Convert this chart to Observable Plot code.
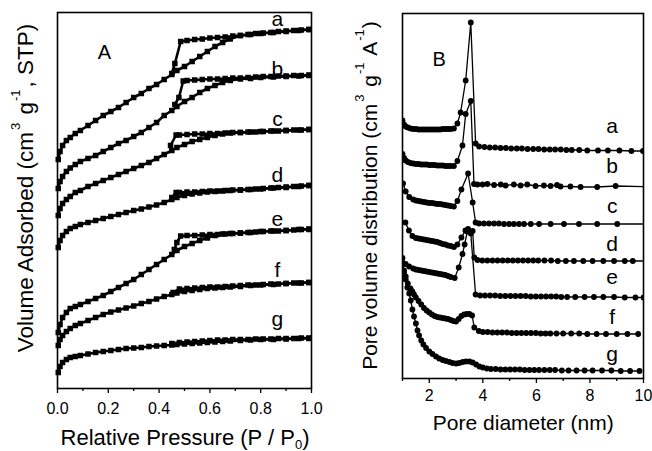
<!DOCTYPE html>
<html><head><meta charset="utf-8">
<script src="https://cdn.jsdelivr.net/npm/d3@7"></script>
<script src="https://cdn.jsdelivr.net/npm/@observablehq/plot@0.6"></script>
<style>
html,body{margin:0;padding:0;background:#fff;}
#wrap{position:relative;width:652px;height:451px;overflow:hidden;background:#fff;}
#wrap svg{position:absolute;top:0;}
</style></head><body><div id="wrap"></div>
<script>
// ---------- Panel A: N2 isotherms (arbitrary offset units) ----------
const sampleNames = ["a","b","c","d","e","f","g"];
const pAds = [0.003,0.01,0.02,0.035,0.05,0.07,0.09,0.12,0.15,0.18,0.21,0.24,0.27,0.30,0.33,0.36,0.39,0.42,0.45,0.47,0.50,0.53,0.56,0.59,0.62,0.65,0.68,0.72,0.76,0.80,0.85,0.90,0.95,0.99];
const adsA = [229,237,243,248,251,255,258,263,268,273,277,281,286,291,295,300,304,309,314,318,322,327,332,337,342,346,349.5,353,354,355,356,357,358,359];
const adsB = [200,207,212,217,220.5,224,227,230,233,237,241,245,248,252,256,261,266,273,278,282,287,291,296,300,303,306,308,309.5,310,311,311.5,312,312.5,313];
const adsC = [173,180,185,189,192,196,198,202,205,208,211,214,217,220,223,226,230,234,238,241,244,247,249,251,253,254.5,255.5,256,256.5,257,257.5,258,258.5,259];
const adsD = [141,148,153,157,160,162,164,166,168,170,172,174,176,178,179.5,181.5,183.5,186,189,191,193,194.5,195.5,196.5,197,197.5,198,198.5,199,199.5,200.5,201,202,203];
const adsE = [56,64,71,76,80,82,84,87,90,93,97,101,105,109,114,119,124,129,134,138,142,145,148,150.5,153,154.5,155,155.5,156,157,157.5,158,159,159.5];
const adsF = [43,49,53,57,60,63,65,68,71,74,76.5,78.5,80.5,82.5,85,87,89.5,92,94,95.5,97,98,99,100,100.5,101,101.5,102,103,103.5,104,105,105.5,106];
const adsG = [16,22,26,29,31,32,33,34.5,36,37,38,39,40,40.5,41,42,42.5,43,43.5,44,44.5,45,45.5,46,46.5,47,47.5,48,48.5,49,49,49.5,50,50];

const desA = [[0.99,359],[0.96,358.5],[0.93,358],[0.90,357.5],[0.87,357],[0.84,356],[0.81,355.5],[0.78,355],[0.75,354],[0.72,353],[0.69,352.5],[0.66,351.5],[0.63,351],[0.60,350.5],[0.57,349.5],[0.54,349],[0.51,348],[0.485,347],[0.462,325],[0.45,315]];
const desB = [[0.99,313.5],[0.96,313],[0.93,313],[0.90,312.5],[0.87,312.5],[0.84,312],[0.81,312],[0.78,311.5],[0.75,311],[0.72,310.5],[0.69,310.5],[0.66,310],[0.63,309.5],[0.60,309.5],[0.57,309],[0.54,308.5],[0.51,308],[0.495,307.5],[0.478,291],[0.462,284]];
const desC = [[0.99,259],[0.96,258.5],[0.93,258.5],[0.90,258],[0.87,257.5],[0.84,257.5],[0.81,257],[0.78,256.5],[0.75,256.5],[0.72,256],[0.69,256],[0.66,255.5],[0.63,255],[0.60,255],[0.57,254.5],[0.54,254.5],[0.51,254],[0.48,253.5],[0.467,253.5],[0.445,243]];
const desD = [[0.99,203],[0.96,202.5],[0.93,202],[0.90,201.5],[0.87,201],[0.84,200.5],[0.81,200],[0.78,199.5],[0.75,199],[0.72,198.5],[0.69,198.5],[0.66,198],[0.63,197.5],[0.60,197.5],[0.57,197],[0.54,196.5],[0.51,196.5],[0.48,196],[0.467,196],[0.45,191]];
const desE = [[0.99,159],[0.96,159],[0.93,158.5],[0.90,158],[0.87,157.5],[0.84,157.5],[0.81,157],[0.78,156.5],[0.75,156],[0.72,155.5],[0.69,155],[0.66,154.5],[0.63,154],[0.60,154],[0.57,153.5],[0.54,153],[0.51,153],[0.485,152.5],[0.47,146],[0.46,139]];
const desF = [[0.99,106],[0.96,105.5],[0.93,105.5],[0.90,105],[0.87,104.5],[0.84,104.5],[0.81,104],[0.78,103.5],[0.75,103.5],[0.72,103],[0.69,102.5],[0.66,102],[0.63,101.5],[0.60,101.5],[0.57,101],[0.54,100.5],[0.51,100],[0.48,99.5],[0.455,96]];
const desG = [[0.99,50.5],[0.96,50.5],[0.93,50],[0.90,50],[0.87,50],[0.84,49.5],[0.81,49.5],[0.78,49.5],[0.75,49],[0.72,49],[0.69,49],[0.66,48.5],[0.63,48.5],[0.60,48],[0.57,47.5],[0.54,47],[0.51,46.5],[0.48,46],[0.45,45]];

const ticksMajorA = [0, 0.2, 0.4, 0.6, 0.8, 1.0];
const ticksMinorA = [0.1, 0.3, 0.5, 0.7, 0.9];
const labelXA = 0.866;
const labelYA = [369.7, 319.7, 269.7, 213, 169.7, 118, 69.7];

// ---------- Panel B: pore size distributions (arbitrary offset units) ----------
const pvdA = [[1.00,258],[1.06,254],[1.12,252],[1.2,251],[1.3,250],[1.4,249.5],[1.5,249.5],[1.6,249],[1.7,249],[1.8,249],[1.9,249],[2.0,249],[2.1,249],[2.2,249],[2.3,249],[2.4,249],[2.5,249.5],[2.6,249.5],[2.7,249.5],[2.8,249.5],[2.92,250],[3.05,255],[3.17,266],[3.36,298],[3.55,356],[3.73,235],[3.86,232],[4.06,231.5],[4.26,231],[4.46,231],[4.66,230.5],[4.86,230.5],[5.06,230],[5.27,230],[5.46,230],[5.67,229.5],[5.88,229.5],[6.08,229.5],[6.29,229],[6.5,229],[6.7,229],[6.91,229],[7.12,228.5],[7.32,228.5],[7.6,228.5],[7.9,228],[8.3,228],[8.67,228],[9.1,228],[9.55,227.5],[9.98,227.5]];
const pvdB = [[1.00,224.5],[1.06,220.5],[1.12,218],[1.2,216.5],[1.3,215.5],[1.4,215],[1.5,214.5],[1.6,214.5],[1.7,214],[1.8,214],[1.9,214],[2.0,213.5],[2.1,213.5],[2.2,213.5],[2.3,213],[2.4,213],[2.5,213],[2.6,212.5],[2.7,212.5],[2.8,212.5],[2.92,212.5],[3.05,217.5],[3.24,233],[3.36,264.5],[3.55,277.5],[3.67,194.5],[3.8,194],[3.99,194],[4.17,194.5],[4.42,193.5],[4.67,194],[4.85,193],[5.16,194],[5.41,193],[5.66,194],[5.97,192.5],[6.28,193],[6.53,192.5],[6.77,193.5],[6.9,192],[7.27,192],[7.65,191.5],[8.27,191.5],[8.96,192.5],[10.4,191.5]];
const pvdC = [[1.02,195],[1.12,187],[1.25,181.5],[1.4,179],[1.5,178],[1.6,177.5],[1.7,177],[1.8,176.5],[1.9,176],[2.0,175.5],[2.1,175.5],[2.2,175],[2.3,174.5],[2.4,174.5],[2.5,174],[2.6,173.5],[2.7,173],[2.8,172.5],[2.92,172],[3.05,177.5],[3.2,189],[3.45,205],[3.62,176],[3.73,156],[3.86,155],[4.04,155],[4.23,155],[4.42,155],[4.6,155],[4.79,154.5],[4.98,154.5],[5.16,154.5],[5.35,154.5],[5.54,154.5],[5.79,154.5],[6.1,154.5],[6.53,154.5],[7.03,154.5],[7.59,154.5],[8.27,154.5],[9.02,154.5],[10.4,154.5]];
const pvdD = [[1.11,156],[1.24,148],[1.37,142.5],[1.5,140.5],[1.6,140],[1.7,139.5],[1.8,139],[1.9,138.5],[2.0,138],[2.1,137.5],[2.2,137],[2.3,136.5],[2.4,135.5],[2.5,134.5],[2.6,134],[2.7,133],[2.8,132.5],[2.92,131.5],[3.05,134],[3.2,141],[3.35,148],[3.45,149.5],[3.62,147.5],[3.68,121],[3.8,118.5],[3.98,118],[4.17,118],[4.36,118],[4.55,118],[4.74,118],[4.93,118],[5.12,118],[5.31,118],[5.5,118],[5.69,118],[5.88,118],[6.07,118],[6.3,118],[6.55,118],[6.8,117.5],[7.1,117.5],[7.4,117.5],[7.75,117.5],[8.1,117.5],[8.5,117.5],[8.9,117.5],[9.3,117.5],[9.6,117.5],[10.4,117.5]];
const pvdE = [[1.0,120.5],[1.12,114.5],[1.25,112],[1.4,110],[1.5,109],[1.6,108.5],[1.7,108],[1.8,107.5],[1.9,107],[2.0,106.5],[2.1,106],[2.2,105.5],[2.3,105],[2.4,104.5],[2.5,104],[2.6,103.5],[2.7,102.5],[2.8,101.5],[2.95,100.5],[3.1,111],[3.24,124.5],[3.32,134],[3.42,147],[3.55,145],[3.73,84],[3.9,83],[4.08,83],[4.27,83],[4.46,83],[4.65,82.5],[4.84,82.5],[5.03,82.5],[5.22,82.5],[5.41,82.5],[5.6,82.5],[5.79,82],[5.98,82],[6.17,82],[6.36,82],[6.55,82],[6.74,82],[6.93,81.5],[7.15,81.5],[7.45,81.5],[7.8,81.5],[8.15,81.5],[8.5,81.5],[8.9,81.5],[9.3,81],[9.7,81],[10.0,81]];
const pvdF = [[1.0,116],[1.06,108],[1.12,102],[1.2,95],[1.3,90],[1.37,87],[1.43,84],[1.5,81],[1.6,77.5],[1.7,74],[1.8,70.5],[1.9,68],[2.0,66],[2.1,64],[2.2,62.5],[2.3,61.5],[2.4,61],[2.5,60.5],[2.6,60],[2.7,59.5],[2.8,58.5],[2.9,57.5],[3.0,57],[3.1,59.5],[3.2,62.5],[3.3,64],[3.4,64.5],[3.5,64.5],[3.6,63],[3.68,51],[3.85,47.5],[4.0,46.5],[4.18,46.5],[4.36,46],[4.54,46],[4.72,46],[4.9,46],[5.08,45.5],[5.26,45.5],[5.44,45.5],[5.62,45.5],[5.8,45.5],[5.98,45.5],[6.16,45],[6.34,45],[6.52,45],[6.75,45],[7.0,45],[7.3,45],[7.6,45],[7.9,44.5],[8.25,44.5],[8.6,44.5],[9.0,44.5],[9.4,44.5],[9.8,44.5]];
const pvdG = [[1.0,114],[1.06,106],[1.12,99],[1.18,91],[1.25,85],[1.31,78],[1.37,69],[1.43,62],[1.5,55],[1.56,48],[1.62,43],[1.7,38],[1.78,34],[1.88,30.5],[2.0,27],[2.12,24.5],[2.25,22],[2.37,20],[2.5,18.5],[2.62,17.5],[2.75,16.5],[2.87,15.5],[3.0,15],[3.12,15.5],[3.25,16.5],[3.37,17],[3.5,17],[3.62,16],[3.75,14],[3.87,12],[4.0,11],[4.15,10],[4.3,9.5],[4.48,9.5],[4.66,9],[4.84,9],[5.02,9],[5.2,9],[5.38,9],[5.56,8.5],[5.74,8.5],[5.92,8.5],[6.1,8.5],[6.3,8.5],[6.5,8.5],[6.7,8.5],[6.95,8],[7.2,8],[7.5,8],[7.8,8],[8.1,8],[8.45,8],[8.8,8],[9.15,7.5],[9.5,7.5],[9.85,7.5]];

const ticksMajorB = [2, 4, 6, 8, 10];
const ticksMinorB = [1, 3, 5, 7, 9];
const labelXB = 8.83;
const labelYB = [252.7, 212.7, 172.7, 134.4, 101.1, 61.1, 24.4];

// ---------- drawing ----------
const FONT = "'Liberation Sans', Arial, Helvetica, sans-serif";
const wrap = document.getElementById("wrap");
const fx = d => d[0], fy = d => d[1];

const adsSeries = [adsA, adsB, adsC, adsD, adsE, adsF, adsG].map(v => pAds.map((p, i) => [p, v[i]]));
const desSeries = [desA, desB, desC, desD, desE, desF, desG];

const marksA = [];
adsSeries.forEach((s, k) => {
  const d = desSeries[k];
  marksA.push(Plot.line(s, {x: fx, y: fy, stroke: "black", strokeWidth: 2.6}));
  marksA.push(Plot.line(d, {x: fx, y: fy, stroke: "black", strokeWidth: 2.6}));
  marksA.push(Plot.dot(s, {x: fx, y: fy, symbol: "square", r: 3.1, fill: "black", stroke: "none"}));
  marksA.push(Plot.dot(d, {x: fx, y: fy, symbol: "square", r: 3.1, fill: "black", stroke: "none"}));
});
marksA.push(
  Plot.frame({stroke: "black", strokeWidth: 1.6}),
  Plot.axisX({ticks: ticksMajorA, tickSize: 5, tickPadding: 9, tickFormat: d3.format(".1f"), label: null, strokeWidth: 1.3}),
  Plot.axisX({ticks: ticksMinorA, tickSize: 3, tickFormat: () => "", label: null, strokeWidth: 1.3}),
  Plot.text(sampleNames, {x: () => labelXA, y: (d, i) => labelYA[i], text: d => d, lineAnchor: "middle", textAnchor: "middle"}),
  Plot.text(["A"], {x: () => 0.185, y: () => 336, text: d => d, lineAnchor: "middle", textAnchor: "middle"})
);

const svgA = Plot.plot({
  width: 330, height: 451,
  marginLeft: 57, marginRight: 19, marginTop: 12, marginBottom: 63,
  x: {domain: [0, 1]},
  y: {domain: [0, 376], axis: null},
  style: {fontFamily: FONT, color: "black", background: "transparent", overflow: "visible"},
  marks: marksA
});
svgA.style.left = "0px";
wrap.appendChild(svgA);

const marksB = [];
[pvdA, pvdB, pvdC, pvdD, pvdE, pvdF, pvdG].forEach(s => {
  marksB.push(Plot.line(s, {x: fx, y: fy, stroke: "black", strokeWidth: 1.3, clip: true}));
  marksB.push(Plot.dot(s, {x: fx, y: fy, r: 2.9, fill: "black", stroke: "none", clip: true}));
});
marksB.push(
  Plot.frame({stroke: "black", strokeWidth: 1.6}),
  Plot.axisX({ticks: ticksMajorB, tickSize: 5, tickPadding: 6, tickFormat: d3.format("d"), label: null, strokeWidth: 1.3}),
  Plot.axisX({ticks: ticksMinorB, tickSize: 3, tickFormat: () => "", label: null, strokeWidth: 1.3}),
  Plot.text(sampleNames, {x: () => labelXB, y: (d, i) => labelYB[i], text: d => d, lineAnchor: "middle", textAnchor: "middle"}),
  Plot.text(["B"], {x: () => 2.37, y: () => 319, text: d => d, lineAnchor: "middle", textAnchor: "middle"})
);

const svgB = Plot.plot({
  width: 312, height: 451,
  marginLeft: 62, marginRight: 9, marginTop: 13, marginBottom: 73,
  x: {domain: [1, 10]},
  y: {domain: [0, 365], axis: null},
  style: {fontFamily: FONT, color: "black", background: "transparent", overflow: "visible"},
  marks: marksB
});
svgB.style.left = "340px";
wrap.appendChild(svgB);

// font sizes of Plot-generated text (tick labels, curve labels, panel letters)
[svgA, svgB].forEach(svg => {
  d3.select(svg).selectAll("text").each(function() {
    const s = this.textContent;
    let size = 16;
    if (/^[a-g]$/.test(s)) size = 21;
    else if (/^[AB]$/.test(s)) size = 20;
    d3.select(this).style("font-size", size + "px").style("font-family", FONT).attr("fill", "black");
  });
});

// ---------- axis titles ----------
function title(svg, x, y, rotate, size, parts) {
  const t = d3.select(svg).append("text")
    .attr("transform", `translate(${x},${y})` + (rotate ? " rotate(-90)" : ""))
    .attr("text-anchor", "middle").attr("font-family", FONT)
    .attr("font-size", size).attr("fill", "black");
  parts.forEach(p => {
    const s = t.append("tspan").text(p.t);
    if (p.size) s.attr("font-size", p.size);
    if (p.dy) s.attr("dy", p.dy);
    if (p.dx) s.attr("dx", p.dx);
  });
}
title(svgA, 33, 188, true, 22.5, [
  {t: "Volume Adsorbed (cm"},
  {t: "3", size: 13, dy: -13, dx: 2},
  {t: " g", dy: 13, dx: 2},
  {t: "-1", size: 13, dy: -13, dx: 1},
  {t: ", STP)", dy: 13, dx: 2}
]);
title(svgA, 185, 445, false, 22, [
  {t: "Relative Pressure (P / P"},
  {t: "0", size: 13, dy: 4},
  {t: ")", dy: -4}
]);
title(svgB, 36.7, 195.5, true, 21, [
  {t: "Pore volume distribution (cm"},
  {t: "3", size: 13, dy: -13, dx: 2},
  {t: " g", dy: 13, dx: 2},
  {t: "-1", size: 13, dy: -13, dx: 1},
  {t: " A", dy: 13, dx: 2},
  {t: "-1", size: 13, dy: -13, dx: 1},
  {t: ")", dy: 13, dx: 1}
]);
title(svgB, 183.3, 430, false, 21, [{t: "Pore diameter (nm)"}]);
</script>
</body></html>
